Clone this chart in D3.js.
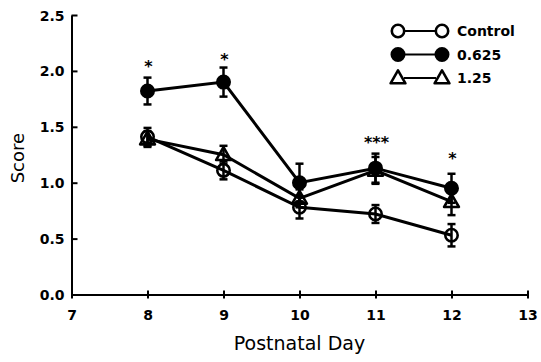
<!DOCTYPE html>
<html>
<head>
<meta charset="utf-8">
<script src="https://cdn.jsdelivr.net/npm/d3@7"></script>
<style>
  body { margin: 0; background: #fff; }
  svg { display: block; font-family: "DejaVu Sans", Verdana, sans-serif; }
</style>
</head>
<body>
<svg id="chart" width="541" height="362"></svg>
<script>
// values
var days = [8, 9, 10, 11, 12];
var control = [1.41, 1.11, 0.78, 0.72, 0.53];
var controlErr = [0.08, 0.08, 0.10, 0.08, 0.10];
var dose625 = [1.82, 1.90, 1.00, 1.13, 0.95];
var dose625Err = [0.12, 0.13, 0.17, 0.13, 0.13];
var dose125 = [1.39, 1.25, 0.86, 1.11, 0.83];
var dose125Err = [0.07, 0.08, 0.08, 0.12, 0.12];

var starDays = [8, 9, 11, 12];
var starMarks = ["*", "*", "***", "*"];
var starScore = [2.07, 2.13, 1.39, 1.25];

var xTicks = [7, 8, 9, 10, 11, 12, 13];
var yTicks = [0, 0.5, 1.0, 1.5, 2.0, 2.5];
var legendLabels = ["Control", "0.625", "1.25"];

var series = [
    {name: legendLabels[0], vals: control, err: controlErr, shape: "circle", fill: "none"},
    {name: legendLabels[1], vals: dose625, err: dose625Err, shape: "circle", fill: "#000"},
    {name: legendLabels[2], vals: dose125, err: dose125Err, shape: "triangle", fill: "none"}
];

var svg = d3.select("#chart");
var x = d3.scaleLinear().domain([7, 13]).range([71.5, 527.5]);
var y = d3.scaleLinear().domain([0, 2.5]).range([294.5, 15]);

// axes: ticks cross the line on both sides
var xAxis = svg.append("g").attr("transform", "translate(0," + y(0) + ")")
    .call(d3.axisBottom(x).tickValues(xTicks).tickFormat(d3.format("d")).tickSize(4).tickSizeOuter(0));
xAxis.selectAll(".tick line").attr("y1", -4);

var yAxis = svg.append("g").attr("transform", "translate(" + x(7) + ",0)")
    .call(d3.axisLeft(y).tickValues(yTicks).tickFormat(d3.format(".1f")).tickSize(5).tickSizeOuter(0));
yAxis.selectAll(".tick line").attr("x2", 6);

[xAxis, yAxis].forEach(function(ax) {
    ax.attr("font-family", null);
    ax.select(".domain").attr("stroke", "#000").attr("stroke-width", 2);
    ax.selectAll(".tick line").attr("stroke", "#000").attr("stroke-width", 2);
    ax.selectAll("text").attr("fill", "#000").style("font-size", "14px").style("font-weight", "bold");
});
xAxis.selectAll("text").attr("dy", "1.3em");
yAxis.selectAll("text").attr("x", -7).attr("dy", "0.36em");

svg.append("text")
    .attr("transform", "translate(24," + y(1.22) + ") rotate(-90)")
    .attr("text-anchor", "middle")
    .style("font-size", "18px")
    .text("Score");

svg.append("text")
    .attr("x", x(10)).attr("y", 350)
    .attr("text-anchor", "middle")
    .style("font-size", "19px")
    .text("Postnatal Day");

var tri = d3.symbol().type(d3.symbolTriangle).size(95);

function drawMarker(g, s, cx, cy) {
    if (s.shape === "circle") {
        g.append("circle").attr("cx", cx).attr("cy", cy).attr("r", 6.2)
            .attr("fill", s.fill).attr("stroke", "#000").attr("stroke-width", 2.6);
    } else {
        g.append("path").attr("d", tri)
            .attr("transform", "translate(" + cx + "," + (cy + 1) + ")")
            .attr("fill", s.fill).attr("stroke", "#000").attr("stroke-width", 2.6)
            .attr("stroke-linejoin", "round");
    }
}

var line = d3.line().x(function(d) { return x(d[0]); }).y(function(d) { return y(d[1]); });

series.forEach(function(s) {
    var pts = days.map(function(d, i) { return [d, s.vals[i]]; });
    svg.append("path").datum(pts).attr("d", line)
        .attr("fill", "none").attr("stroke", "#000").attr("stroke-width", 3);
});

series.forEach(function(s) {
    var g = svg.append("g");
    days.forEach(function(d, i) {
        var cx = x(d), lo = y(s.vals[i] - s.err[i]), hi = y(s.vals[i] + s.err[i]);
        g.append("line").attr("x1", cx).attr("x2", cx).attr("y1", lo).attr("y2", hi)
            .attr("stroke", "#000").attr("stroke-width", 2.5);
        [lo, hi].forEach(function(yy) {
            g.append("line").attr("x1", cx - 4).attr("x2", cx + 4).attr("y1", yy).attr("y2", yy)
                .attr("stroke", "#000").attr("stroke-width", 2.5);
        });
        drawMarker(g, s, cx, y(s.vals[i]));
    });
});

// significance marks
svg.selectAll(".star").data(starDays).enter().append("text")
    .attr("class", "star")
    .attr("x", function(d) { return x(d) + 1; })
    .attr("y", function(d, i) { return y(starScore[i]) + 9; })
    .attr("text-anchor", "middle")
    .style("font-size", "16px").style("font-weight", "bold")
    .text(function(d, i) { return starMarks[i]; });

// legend
var legend = svg.append("g");
series.forEach(function(s, i) {
    var ly = 31 + i * 23.5;
    legend.append("line").attr("x1", 404).attr("x2", 436).attr("y1", ly).attr("y2", ly)
        .attr("stroke", "#000").attr("stroke-width", 2);
    drawMarker(legend, s, 398, ly);
    drawMarker(legend, s, 442, ly);
    legend.append("text").attr("x", 457).attr("y", ly).attr("dy", "0.36em")
        .style("font-size", "14px").style("font-weight", "bold")
        .text(s.name);
});
</script>
</body>
</html>
